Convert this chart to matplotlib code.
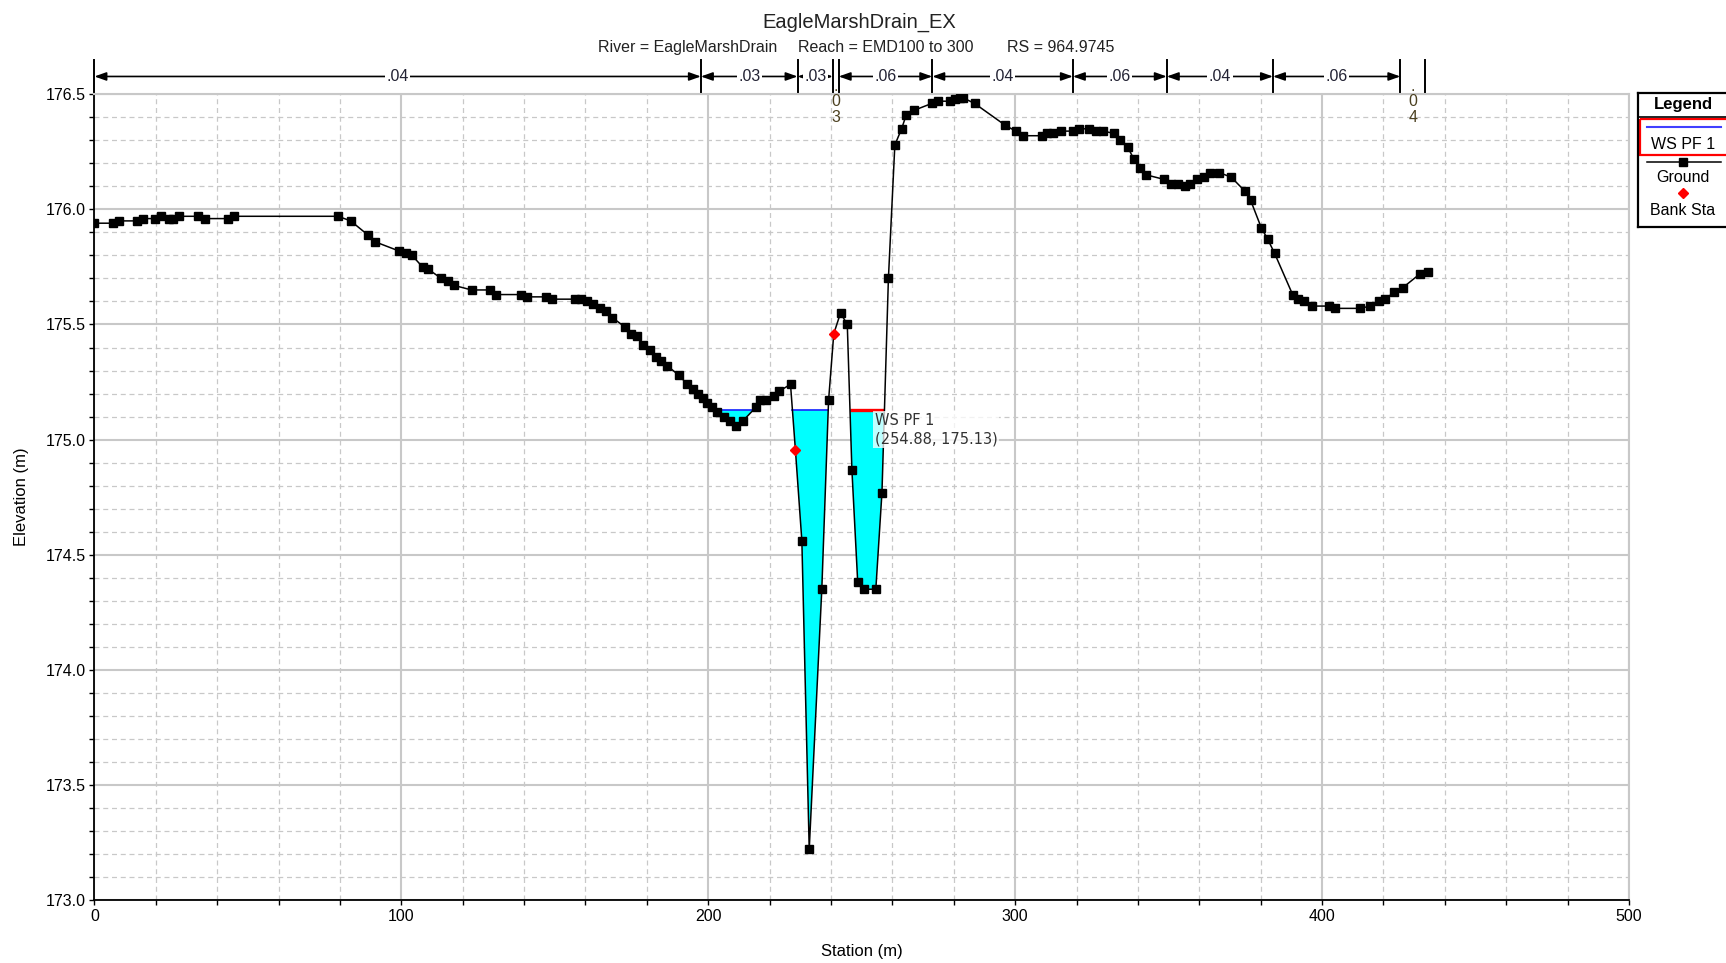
import numpy as np
import matplotlib.pyplot as plt
from matplotlib.ticker import MultipleLocator
from matplotlib.patches import Rectangle

plt.rcParams['font.family'] = ['Liberation Sans', 'DejaVu Sans']

# ground profile (station m, elevation m)
station = [0, 6.1, 8.1, 13.9, 15.7, 19.7, 21.7, 24.3, 25.5, 27.5, 33.9, 35.9, 43.5, 45.5,
           79.4, 83.5, 89.0, 91.3, 99.1, 101.4, 103.5, 106.9, 108.8, 113.0, 115.1, 117.1,
           122.9, 129.0, 131.0, 139.1, 140.9, 147.0, 149.0, 156.5, 158.6, 160.6, 162.6,
           164.6, 166.7, 168.7, 172.8, 174.8, 176.8, 178.8, 180.9, 182.9, 184.6, 186.7,
           190.4, 193.2, 194.9, 196.7, 198.2, 199.5, 201.1, 202.9, 205.1, 207.0, 209.2,
           211.2, 215.5, 217.0, 218.8, 221.4, 223.1, 226.8, 228.4, 230.5, 232.9, 237.0,
           239.2, 240.9, 243.1, 245.3, 246.8, 248.7, 250.9, 254.6, 256.6, 258.7, 260.8,
           263.0, 264.5, 267.0, 272.8, 274.9, 278.7, 280.5, 282.0, 283.0, 286.8, 296.8,
           300.2, 302.5, 308.6, 310.5, 312.4, 314.9, 319.0, 320.7, 324.0, 326.5, 328.6,
           332.3, 334.2, 336.7, 338.6, 340.8, 342.7, 348.6, 350.7, 353.0, 355.2, 357.0,
           359.2, 361.4, 363.5, 366.4, 370.4, 374.8, 376.7, 380.2, 382.3, 384.5, 390.4,
           392.3, 394.2, 396.6, 402.2, 404.3, 412.5, 415.6, 418.4, 420.6, 423.4, 426.3,
           431.9, 434.5]
elevation = [175.94, 175.94, 175.95, 175.95, 175.96, 175.96, 175.97, 175.96, 175.96, 175.97,
             175.97, 175.96, 175.96, 175.97, 175.97, 175.95, 175.89, 175.86, 175.82, 175.81,
             175.80, 175.75, 175.74, 175.70, 175.69, 175.67, 175.65, 175.65, 175.63, 175.63,
             175.62, 175.62, 175.61, 175.61, 175.61, 175.60, 175.59, 175.57, 175.56, 175.53,
             175.49, 175.46, 175.45, 175.41, 175.39, 175.36, 175.34, 175.32, 175.28, 175.24,
             175.22, 175.20, 175.18, 175.16, 175.14, 175.12, 175.10, 175.08, 175.06, 175.08,
             175.14, 175.17, 175.17, 175.19, 175.21, 175.24, 174.955, 174.56, 173.22, 174.35,
             175.17, 175.46, 175.55, 175.50, 174.87, 174.38, 174.35, 174.35, 174.77, 175.70,
             176.28, 176.35, 176.41, 176.43, 176.46, 176.47, 176.47, 176.48, 176.485, 176.485,
             176.46, 176.365, 176.34, 176.32, 176.32, 176.33, 176.33, 176.34, 176.34, 176.35,
             176.35, 176.34, 176.34, 176.33, 176.30, 176.27, 176.22, 176.18, 176.15, 176.13,
             176.11, 176.11, 176.10, 176.11, 176.13, 176.14, 176.16, 176.16, 176.14, 176.08,
             176.04, 175.92, 175.87, 175.81, 175.63, 175.61, 175.60, 175.58, 175.58, 175.57,
             175.57, 175.58, 175.60, 175.61, 175.64, 175.66, 175.72, 175.73]

bank_sta = [228.4, 240.9]
bank_elev = [174.955, 175.46]

ws_elev = 175.13
hover_sta = 254.88

# Manning's n breaks across the top
n_breaks = [0, 197.6, 229.1, 240.6, 242.5, 273.0, 318.8, 349.4, 384.0, 425.5, 433.6]
n_values = ['.04', '.03', '.03', '.03', '.06', '.04', '.06', '.04', '.06', '.04']

x_ticks = [0, 100, 200, 300, 400, 500]
y_ticks = [173.0, 173.5, 174.0, 174.5, 175.0, 175.5, 176.0, 176.5]

st = np.array(station)
el = np.array(elevation)

fig = plt.figure(figsize=(17.26, 9.63), dpi=100)
ax = fig.add_axes([0.0547, 0.0654, 0.8891, 0.8367])

grid_c = '#c8c8c8'
ax.set_xlim(x_ticks[0], x_ticks[-1])
ax.set_ylim(y_ticks[0], y_ticks[-1])
ax.set_xticks(x_ticks)
ax.set_yticks(y_ticks)
ax.set_yticklabels([f'{v:.1f}' for v in y_ticks])
ax.xaxis.set_minor_locator(MultipleLocator(20))
ax.yaxis.set_minor_locator(MultipleLocator(0.1))
ax.grid(which='major', color=grid_c, lw=1.5, ls='-')
ax.grid(which='minor', color=grid_c, lw=0.9, ls=(0, (4, 3)))
ax.set_axisbelow(True)
ax.tick_params(which='both', direction='out', length=3.5, width=1, labelsize=11.5, pad=3)
for s in ['top', 'right']:
    ax.spines[s].set_color(grid_c)
    ax.spines[s].set_linewidth(1.5)
for s in ['left', 'bottom']:
    ax.spines[s].set_color('black')
    ax.spines[s].set_linewidth(1.3)

# water fill and WS lines
ax.fill_between(st, el, ws_elev, where=el < ws_elev, interpolate=True,
                color='#00ffff', lw=0, zorder=2)
below = el < ws_elev
i = 0
while i < len(st):
    if below[i]:
        j = i
        while j + 1 < len(st) and below[j + 1]:
            j += 1
        xl = st[i - 1] + (ws_elev - el[i - 1]) * (st[i] - st[i - 1]) / (el[i] - el[i - 1])
        xr = st[j] + (ws_elev - el[j]) * (st[j + 1] - st[j]) / (el[j + 1] - el[j])
        if xl <= hover_sta <= xr:
            ax.plot([xl, xr], [ws_elev, ws_elev], color='red', lw=2.4, zorder=3,
                    solid_capstyle='butt')
        else:
            ax.plot([xl, xr], [ws_elev, ws_elev], color='#2020ff', lw=1.2, zorder=3)
        i = j + 1
    else:
        i += 1

# ground squares everywhere except where the bank diamonds sit
marks = [k for k, s in enumerate(station) if s not in bank_sta]
ax.plot(st, el, color='black', lw=1.1, marker='s', ms=5.8, markevery=marks, zorder=4)
ax.plot(bank_sta, bank_elev, ls='none', marker='D', ms=5.5, color='red',
        mec='red', zorder=5)

ax.text(254.2, 175.115, f'WS PF 1\n({hover_sta:.2f}, {ws_elev:.2f})', fontsize=10.5,
        family=['DejaVu Sans'], color='#333333', ha='left', va='top', zorder=6,
        linespacing=1.25,
        bbox=dict(facecolor='white', alpha=0.75, edgecolor='none', pad=1.5))

ax.set_xlabel('Station (m)', fontsize=12)
ax.set_ylabel('Elevation (m)', fontsize=12)
ax.xaxis.set_label_coords(0.5, -0.055)
ax.yaxis.set_label_coords(-0.0425, 0.5)

# Manning's n bar
trans = ax.get_xaxis_transform()
for b in n_breaks:
    ax.plot([b, b], [1.0022, 1.0426], transform=trans, color='black', lw=1.4,
            clip_on=False)
y_arr = 1.0221
for k, val in enumerate(n_values):
    a, b = n_breaks[k], n_breaks[k + 1]
    mid = (a + b) / 2
    if b - a < 10:
        ax.text(mid, 1.0195, '\n'.join(val), transform=trans, ha='center', va='top',
                fontsize=11.5, color='#4b4020', linespacing=1.05, clip_on=False)
        continue
    ax.annotate('', xy=(b, y_arr), xytext=(a, y_arr), xycoords=trans, textcoords=trans,
                arrowprops=dict(arrowstyle='<|-|>,head_length=0.7,head_width=0.25',
                                color='black', lw=1.2, shrinkA=0, shrinkB=0,
                                mutation_scale=10), annotation_clip=False)
    ax.text(mid, y_arr, val, transform=trans, ha='center', va='center', fontsize=11.5,
            color='#222233', clip_on=False,
            bbox=dict(facecolor='white', edgecolor='none', pad=1.0))

# titles
fig.text(0.498, 0.977, 'EagleMarshDrain_EX', ha='center', va='center', fontsize=14.5,
         color='#222222')
fig.text(597.7 / 1726, 0.951, 'River = EagleMarshDrain', ha='left', va='center',
         fontsize=11.5, color='#222222')
fig.text(798 / 1726, 0.951, 'Reach = EMD100 to 300', ha='left', va='center',
         fontsize=11.5, color='#222222')
fig.text(1007 / 1726, 0.951, 'RS = 964.9745', ha='left', va='center',
         fontsize=11.5, color='#222222')

# legend box, laid out in pixel units
lg = fig.add_axes([1638 / 1726, 1 - 227 / 963, 110 / 1726, 134 / 963])
lg.set_xlim(1638, 1748)
lg.set_ylim(227, 93)
lg.set_xticks([])
lg.set_yticks([])
for s in lg.spines.values():
    s.set_linewidth(1.6)
    s.set_color('black')
lg.add_patch(Rectangle((1640, 119), 100, 36, fill=False, edgecolor='red', lw=1.6))
lg.plot([1638, 1748], [116.7, 116.7], color='black', lw=1.2)
lg.text(1683, 104.5, 'Legend', ha='center', va='center', fontsize=12, weight='bold')
lg.plot([1646.7, 1720.7], [126.7, 126.7], color='#4040ff', lw=1.5)
lg.text(1683, 144, 'WS PF 1', ha='center', va='center', fontsize=11.5)
lg.plot([1646.7, 1720.7], [161.7, 161.7], color='black', lw=1.1)
lg.plot([1683], [161.7], marker='s', ms=5.5, color='black')
lg.text(1683, 177, 'Ground', ha='center', va='center', fontsize=11.5)
lg.plot([1683], [193.3], marker='D', ms=5.5, color='red', ls='none')
lg.text(1683, 210, 'Bank Sta', ha='center', va='center', fontsize=11.5)

fig.savefig('out.png', dpi=100)
